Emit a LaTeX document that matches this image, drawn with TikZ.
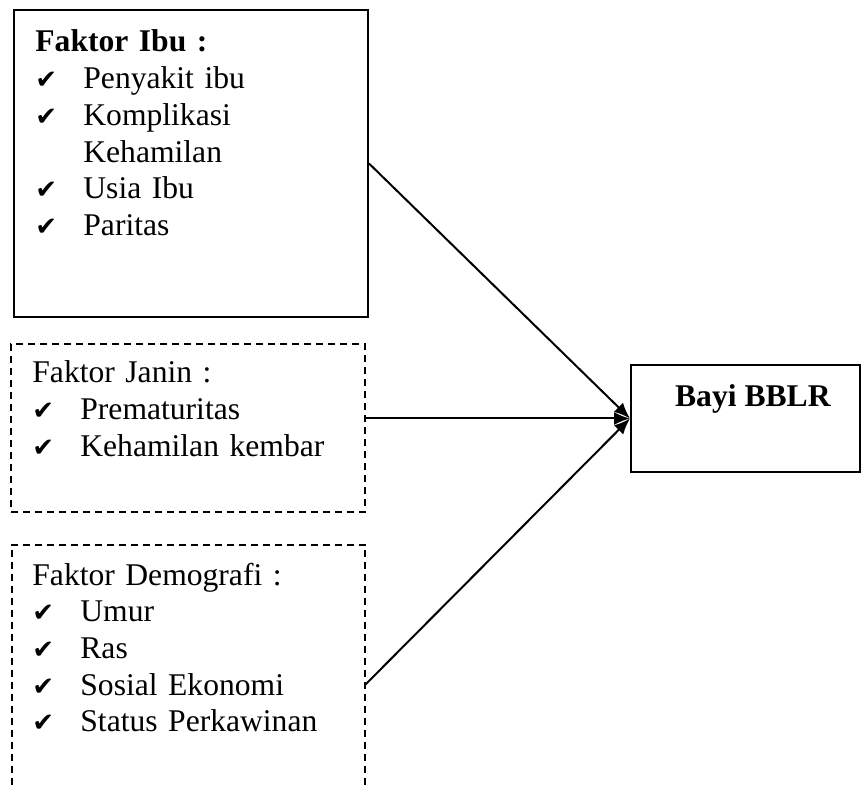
\documentclass[tikz,border=0pt]{standalone}
\usepackage{fontspec}
\setmainfont{Liberation Serif}
\newfontfamily\ckfont{DejaVu Sans}
\usetikzlibrary{arrows.meta,fit}
\newcommand{\ck}{{\ckfont\fontsize{13pt}{13pt}\selectfont ✔}}
\newcommand{\itm}[1]{\makebox[24pt][l]{\ck}#1}

\begin{document}
\begin{tikzpicture}[x=0.5pt,y=-0.5pt,>={Latex[length=8pt,width=6.5pt]},
  font=\fontsize{15.8pt}{18.35pt}\selectfont,
  dashline/.style={line width=1pt,dash pattern=on 3.5pt off 2.5pt},
  frame/.style={draw,line width=1pt,inner sep=0pt},
  dashframe/.style={draw,dashline,inner sep=0pt},
  list/.style={anchor=base west,inner sep=0pt,text width=160pt,align=left},
  link/.style={->,line width=1pt}]
\useasboundingbox (0,0) rectangle (861,785);
% box corners
\coordinate (ibuA) at (14,10);    \coordinate (ibuB) at (368,317);
\coordinate (janinA) at (11,344); \coordinate (janinB) at (365,512);
\coordinate (demoA) at (12,545);  \coordinate (demoB) at (365,785);
\coordinate (bayiA) at (631,365); \coordinate (bayiB) at (860,472);
\node[frame,fit=(ibuA)(ibuB)] (ibu) {};
\node[dashframe,fit=(janinA)(janinB)] (janin) {};
\node[inner sep=0pt,fit=(demoA)(demoB)] (demo) {};
\draw[dashline] (demo.south west) |- (demo.north east) -- (demo.south east);
\node[frame,fit=(bayiA)(bayiB)] (bayi) {};
% texts
\node[list] (ibutxt) at (35,52) {\textbf{Faktor Ibu :}\\
  \itm{Penyakit ibu}\\ \itm{Komplikasi}\\ \hspace*{24pt}Kehamilan\\
  \itm{Usia Ibu}\\ \itm{Paritas}};
\node[list] (janintxt) at (32,383) {Faktor Janin :\\
  \itm{Prematuritas}\\ \itm{Kehamilan kembar}};
\node[list] (demotxt) at (32,585) {Faktor Demografi :\\
  \itm{Umur}\\ \itm{Ras}\\ \itm{Sosial Ekonomi}\\ \itm{Status Perkawinan}};
\node[anchor=base,inner sep=0pt] (bayitxt) at (753,407) {\textbf{Bayi BBLR}};
% arrows
\draw[link] (ibu.east) -- (bayi.west);
\draw[link] (janin.east |- bayi.west) -- (bayi.west);
\draw[link] ([yshift=-70pt]demo.north east) -- (bayi.west);
\end{tikzpicture}
\end{document}
